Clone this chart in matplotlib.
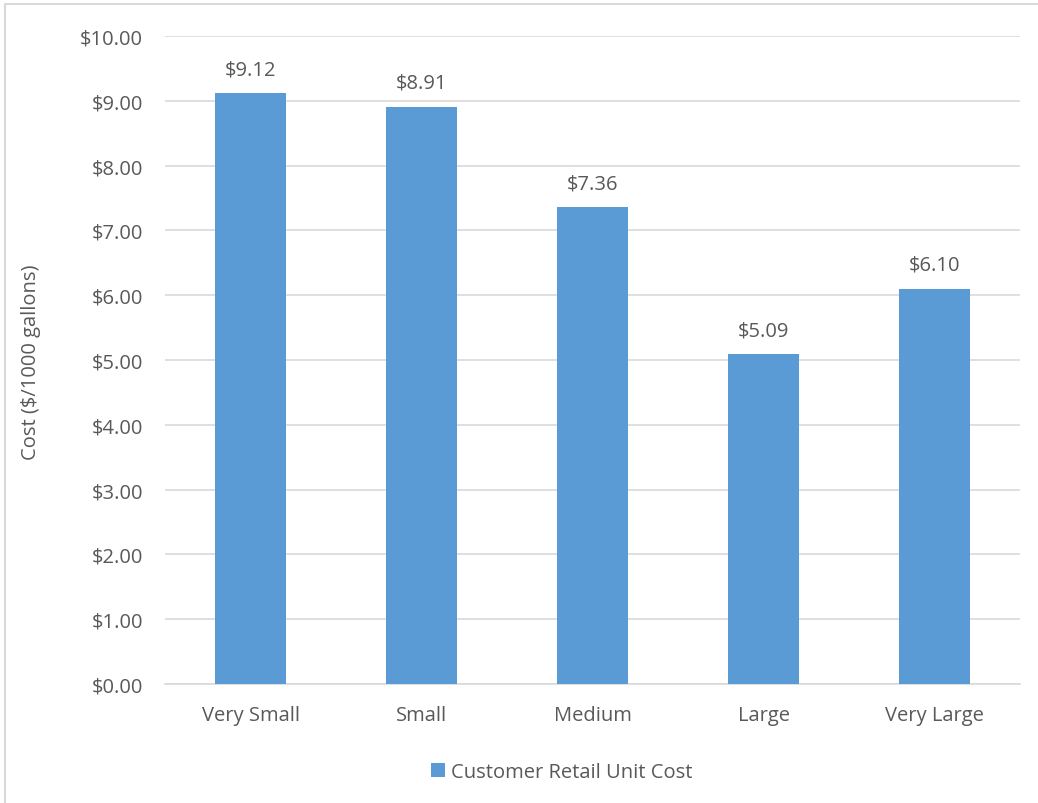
import matplotlib
matplotlib.use('Agg')
import matplotlib.pyplot as plt
from matplotlib.patches import Rectangle

categories = ['Very Small', 'Small', 'Medium', 'Large', 'Very Large']
costs = [9.12, 8.91, 7.36, 5.09, 6.10]
yticks = [0, 1, 2, 3, 4, 5, 6, 7, 8, 9, 10]

plt.rcParams['font.family'] = ['Open Sans', 'DejaVu Sans']
text_col = '#595959'
bar_col = '#5B9BD5'
grid_col = '#D9D9D9'
fs = 14.5

fig = plt.figure(figsize=(10.38, 8.04), dpi=100)
ax = fig.add_axes([165/1038, 1 - 685/804, (1020 - 165)/1038, (685 - 37)/804])

x = list(range(len(categories)))
bars = ax.bar(x, costs, width=0.41, color=bar_col, zorder=3,
              label='Customer Retail Unit Cost')

for b, v in zip(bars, costs):
    ax.annotate('${:.2f}'.format(v), (b.get_x() + b.get_width()/2, v),
                xytext=(0, 10), textcoords='offset points',
                ha='center', va='bottom', fontsize=fs, color=text_col)

ax.set_xlim(-0.5, len(categories) - 0.5)
ax.set_ylim(0, 10)
ax.set_yticks(yticks)
ax.set_yticklabels(['${:.2f}'.format(t) for t in yticks])
ax.set_xticks(x)
ax.set_xticklabels(categories)
ax.tick_params(axis='both', length=0, labelsize=fs, colors=text_col)
ax.tick_params(axis='x', pad=15)
ax.tick_params(axis='y', pad=16)
ax.yaxis.grid(True, color=grid_col, linewidth=1.2, zorder=0)
for s in ['top', 'right', 'left']:
    ax.spines[s].set_visible(False)
ax.spines['bottom'].set_color(grid_col)
ax.spines['bottom'].set_linewidth(1.2)

fig.text(31/1038, 1 - 362/804, 'Cost ($/1000 gallons)', rotation=90,
         ha='center', va='center', fontsize=fs, color=text_col)

leg = fig.legend(loc='center', bbox_to_anchor=(562/1038, 1 - 773/804),
                 frameon=False, fontsize=fs, handlelength=0.7, handleheight=0.7,
                 handletextpad=0.3, labelcolor=text_col)

# light border around chart area (cut off at right/bottom)
fig.patches.append(Rectangle((5/1038, -0.1), 1.2, 1 - 5/804 + 0.1,
                             transform=fig.transFigure, fill=False,
                             edgecolor=grid_col, linewidth=1.5))

fig.savefig('out.png', dpi=100)
